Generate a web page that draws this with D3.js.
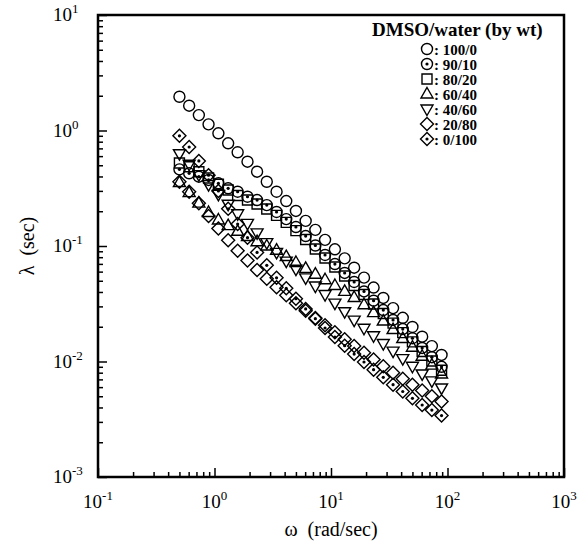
<!DOCTYPE html>
<html>
<head>
<meta charset="utf-8">
<script src="https://cdn.jsdelivr.net/npm/d3@7"></script>
<style>
body { margin: 0; background: #fff; }
text { font-family: "Liberation Serif", "Times New Roman", serif; fill: #000; }
</style>
</head>
<body>
<div id="chart"></div>
<script>
// frequency (rad/sec), same sweep for every sample
var omega = [0.500, 0.606, 0.734, 0.889, 1.08, 1.31, 1.58, 1.92, 2.32, 2.81, 3.41, 4.13, 5.00, 6.06,
             7.34, 8.89, 10.8, 13.1, 15.8, 19.2, 23.2, 28.1, 34.1, 41.3, 50.0, 60.6, 73.4, 88.9];

// relaxation time lambda (sec), one list per DMSO/water ratio
var lam100_0 = [1.96, 1.64, 1.36, 1.13, 0.946, 0.775, 0.648, 0.537, 0.440, 0.360, 0.295, 0.245, 0.201, 0.165,
                0.138, 0.113, 0.0936, 0.0782, 0.0649, 0.0532, 0.0437, 0.0355, 0.0290, 0.0239, 0.0199, 0.0164, 0.0136, 0.0114];
var lam90_10 = [0.461, 0.426, 0.398, 0.373, 0.349, 0.316, 0.295, 0.267, 0.250, 0.226, 0.197, 0.171, 0.146, 0.122,
                0.101, 0.0836, 0.0698, 0.0584, 0.0488, 0.0404, 0.0336, 0.0279, 0.0229, 0.0191, 0.0159, 0.0131, 0.0109, 0.0090];
var lam80_20 = [0.523, 0.486, 0.440, 0.388, 0.342, 0.305, 0.274, 0.250, 0.231, 0.209, 0.184, 0.160, 0.136, 0.114,
                0.0942, 0.0787, 0.0658, 0.0550, 0.0455, 0.0380, 0.0315, 0.0260, 0.0215, 0.0178, 0.0148, 0.0122, 0.0101, 0.0084];
var lam60_40 = [0.355, 0.290, 0.235, 0.195, 0.168, 0.150, 0.134, 0.121, 0.109, 0.100, 0.092, 0.081, 0.072, 0.064,
                0.057, 0.051, 0.0455, 0.0405, 0.0358, 0.0310, 0.0265, 0.0224, 0.0189, 0.0158, 0.0133, 0.0111, 0.0093, 0.0078];
var lam40_60 = [0.63, 0.51, 0.415, 0.34, 0.28, 0.23, 0.19, 0.157, 0.130, 0.107, 0.088, 0.074, 0.063, 0.053,
                0.045, 0.038, 0.032, 0.027, 0.0228, 0.0194, 0.0167, 0.0143, 0.0123, 0.0106, 0.0091, 0.0078, 0.0068, 0.0059];
var lam20_80 = [0.36, 0.295, 0.235, 0.182, 0.142, 0.112, 0.091, 0.075, 0.062, 0.052, 0.044, 0.0375, 0.032, 0.0275,
                0.0238, 0.0206, 0.0179, 0.0156, 0.0136, 0.0119, 0.0104, 0.0091, 0.0080, 0.0071, 0.0063, 0.0056, 0.0050, 0.0045];
var lam0_100 = [0.90, 0.72, 0.545, 0.41, 0.30, 0.21, 0.155, 0.118, 0.088, 0.068, 0.053, 0.043, 0.035, 0.0285,
                0.0235, 0.0195, 0.0163, 0.0137, 0.0116, 0.0099, 0.0085, 0.0073, 0.0063, 0.0055, 0.0048, 0.0042, 0.0038, 0.0034];

var ratios = ["100/0", "90/10", "80/20", "60/40", "40/60", "20/80", "0/100"];
var markers = ["circle", "circleDot", "square", "triUp", "triDown", "diamond", "diamondDot"];
var allSeries = [lam100_0, lam90_10, lam80_20, lam60_40, lam40_60, lam20_80, lam0_100];

// tick labels: base 10 with these exponents
var xExp = [-1, 0, 1, 2, 3];
var yExp = [-3, -2, -1, 0, 1];

var svgWidth = 587;
var svgHeight = 547;

var margin = {top: 15, right: 23, bottom: 70, left: 98};
var width = svgWidth - margin.left - margin.right;
var height = svgHeight - margin.top - margin.bottom;

var svg = d3.select("#chart")
    .append("svg")
    .attr("width", svgWidth)
    .attr("height", svgHeight);

var chartGroup = svg.append("g")
    .attr("transform", `translate(${margin.left}, ${margin.top})`);

var xScale = d3.scaleLog().domain([0.1, 1000]).range([0, width]);
var yScale = d3.scaleLog().domain([0.001, 10]).range([height, 0]);

var xMajor = xExp.map(e => Math.pow(10, e));
var yMajor = yExp.map(e => Math.pow(10, e));
var xMinor = xScale.ticks().filter(t => Math.abs(Math.log10(t) % 1) > 1e-6);
var yMinor = yScale.ticks().filter(t => Math.abs(Math.log10(t) % 1) > 1e-6);

function styleAxis(g) {
    g.select(".domain").remove();
    g.selectAll("line").attr("stroke", "#000").attr("stroke-width", 1.5);
}

// inside ticks, bottom and left only
chartGroup.append("g")
    .attr("transform", `translate(0, ${height})`)
    .call(d3.axisBottom(xScale).tickValues(xMinor).tickSize(-5).tickFormat(""))
    .call(styleAxis);
chartGroup.append("g")
    .attr("transform", `translate(0, ${height})`)
    .call(d3.axisBottom(xScale).tickValues(xMajor).tickSize(-9).tickFormat(""))
    .call(styleAxis);
chartGroup.append("g")
    .call(d3.axisLeft(yScale).tickValues(yMinor).tickSize(-5).tickFormat(""))
    .call(styleAxis);
chartGroup.append("g")
    .call(d3.axisLeft(yScale).tickValues(yMajor).tickSize(-9).tickFormat(""))
    .call(styleAxis);

// frame
chartGroup.append("rect")
    .attr("x", 0)
    .attr("y", 0)
    .attr("width", width)
    .attr("height", height)
    .attr("fill", "none")
    .attr("stroke", "#000")
    .attr("stroke-width", 2.5);

// tick labels as 10 with superscript
var xLab = chartGroup.selectAll(".xlab")
    .data(xExp)
    .enter()
    .append("text")
    .attr("class", "xlab")
    .attr("x", d => xScale(Math.pow(10, d)))
    .attr("y", height + 31)
    .attr("text-anchor", "middle")
    .style("font-size", "19px");
xLab.append("tspan").text("10");
xLab.append("tspan").attr("dy", -8).style("font-size", "13px").text(d => d);

var yLab = chartGroup.selectAll(".ylab")
    .data(yExp)
    .enter()
    .append("text")
    .attr("class", "ylab")
    .attr("x", -45)
    .attr("y", d => yScale(Math.pow(10, d)) + 6)
    .attr("text-anchor", "start")
    .style("font-size", "19px");
yLab.append("tspan").text("10");
yLab.append("tspan").attr("dy", -8).style("font-size", "13px").text(d => d);

// axis titles
chartGroup.append("text")
    .attr("x", width / 2)
    .attr("y", height + 59)
    .attr("text-anchor", "middle")
    .style("font-size", "20px")
    .text("\u03c9\u00a0\u00a0(rad/sec)");

chartGroup.append("text")
    .attr("transform", "rotate(-90)")
    .attr("x", 0 - (height / 2))
    .attr("y", -64)
    .attr("text-anchor", "middle")
    .style("font-size", "20px")
    .text("\u03bb\u00a0\u00a0(sec)");

// open markers
function markerPath(kind) {
    var p = d3.path();
    if (kind === "circle" || kind === "circleDot") {
        p.moveTo(5.5, 0);
        p.arc(0, 0, 5.5, 0, 2 * Math.PI);
    } else if (kind === "square") {
        p.rect(-5, -5, 10, 10);
    } else if (kind === "triUp") {
        p.moveTo(0, -6.5); p.lineTo(6, 4); p.lineTo(-6, 4); p.closePath();
    } else if (kind === "triDown") {
        p.moveTo(0, 6.5); p.lineTo(6, -4); p.lineTo(-6, -4); p.closePath();
    } else {
        p.moveTo(0, -6.5); p.lineTo(6.5, 0); p.lineTo(0, 6.5); p.lineTo(-6.5, 0); p.closePath();
    }
    return p.toString();
}

function drawMarker(sel, kind) {
    sel.append("path")
        .attr("d", markerPath(kind))
        .attr("fill", "none")
        .attr("stroke", "#000")
        .attr("stroke-width", 1.4);
    if (kind === "circleDot" || kind === "diamondDot") {
        sel.append("circle")
            .attr("r", 1.6)
            .attr("fill", "#000");
    }
}

allSeries.forEach(function(vals, i) {
    var pts = chartGroup.append("g")
        .selectAll("g")
        .data(omega.map((w, j) => ({w: w, lam: vals[j]})))
        .enter()
        .append("g")
        .attr("transform", d => `translate(${xScale(d.w)}, ${yScale(d.lam)})`);
    drawMarker(pts, markers[i]);
});

// legend
var legend = svg.append("g")
    .attr("transform", "translate(372, 0)");

legend.append("text")
    .attr("x", 0)
    .attr("y", 36)
    .style("font-size", "19px")
    .style("font-weight", "bold")
    .text("DMSO/water (by wt)");

var rowStep = 15;
ratios.forEach(function(r, i) {
    var row = legend.append("g")
        .attr("transform", `translate(55, ${49 + i * rowStep})`);
    drawMarker(row, markers[i]);
});

// entry labels as one block of lines
var entries = legend.append("text")
    .attr("x", 62)
    .attr("y", 54.5)
    .style("font-size", "15px")
    .style("font-weight", "bold");
entries.selectAll("tspan")
    .data(ratios)
    .enter()
    .append("tspan")
    .attr("x", 62)
    .attr("dy", (d, i) => i === 0 ? 0 : rowStep)
    .text(d => ": " + d);
</script>
</body>
</html>
